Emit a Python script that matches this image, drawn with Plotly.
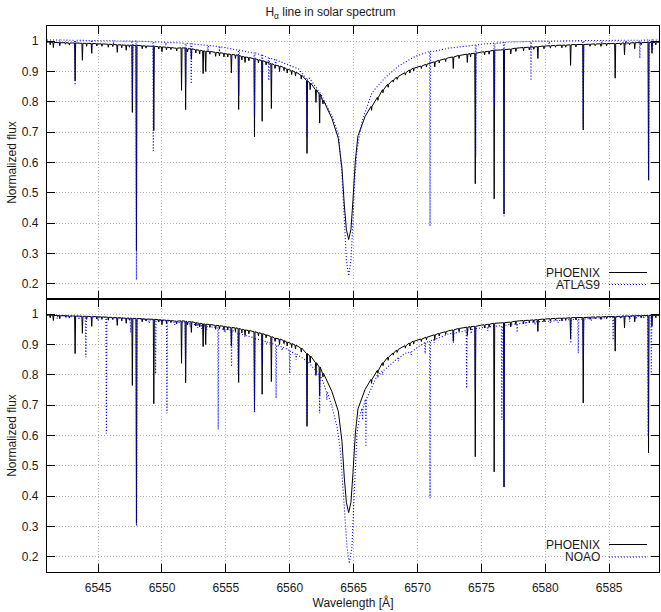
import numpy as np
import plotly.graph_objects as go
from plotly.subplots import make_subplots

# ---------------- data ----------------
# PHOENIX synthetic spectrum: pseudo-continuum incl. H-alpha profile
phx_cont_wl = [6541.0, 6543.0, 6545.0, 6547.0, 6549.0, 6551.0, 6553.0, 6555.0, 6556.5, 6558.0,
               6559.4, 6560.7, 6561.5, 6562.2, 6562.8, 6563.3, 6563.8, 6564.09, 6564.27, 6564.43,
               6564.61, 6564.79, 6564.95, 6565.13, 6565.34, 6565.9, 6566.7, 6567.5, 6568.5, 6569.8,
               6571.1, 6572.4, 6573.7, 6575.0, 6576.5, 6578.0, 6580.0, 6582.0, 6584.0, 6586.0, 6589.0]
phx_cont_fl = [0.997, 0.994, 0.991, 0.987, 0.983, 0.977, 0.969, 0.958, 0.948, 0.933,
               0.915, 0.892, 0.865, 0.832, 0.790, 0.745, 0.680, 0.580, 0.460, 0.380,
               0.346, 0.380, 0.478, 0.605, 0.688, 0.752, 0.805, 0.850, 0.884, 0.912,
               0.930, 0.945, 0.956, 0.964, 0.971, 0.978, 0.984, 0.988, 0.991, 0.994, 0.997]
# PHOENIX absorption lines: centre, core flux, flux at line edges
phx_line_wl = [6541.25, 6541.50, 6542.00, 6542.45, 6542.75, 6543.20, 6543.77, 6544.10, 6544.50, 6544.90,
               6545.30, 6545.80, 6546.15, 6546.50, 6546.85, 6547.20, 6547.45, 6547.68, 6548.00, 6548.45,
               6548.75, 6549.36, 6549.75, 6550.00, 6550.35, 6550.70, 6551.15, 6551.53, 6551.85, 6552.00,
               6552.30, 6552.65, 6552.95, 6553.22, 6553.42, 6553.75, 6554.20, 6554.50, 6554.85, 6555.15,
               6555.43, 6555.75, 6556.00, 6556.25, 6556.50, 6556.80, 6557.24, 6557.55, 6557.84, 6558.15,
               6558.56, 6558.85, 6559.20, 6559.55, 6559.80, 6560.15, 6560.45, 6560.90, 6561.35, 6561.60,
               6562.05, 6562.34, 6562.60, 6566.40, 6566.90, 6567.30, 6567.70, 6568.10, 6568.40, 6569.05,
               6569.40, 6569.70, 6570.30, 6570.70, 6571.35, 6571.70, 6572.20, 6572.80, 6573.25, 6573.90,
               6574.15, 6574.52, 6575.25, 6575.60, 6576.00, 6576.77, 6577.30, 6577.70, 6578.30, 6578.75,
               6579.10, 6579.42, 6579.90, 6580.40, 6580.80, 6581.30, 6581.60, 6581.98, 6582.40, 6582.97,
               6583.50, 6583.90, 6584.35, 6584.80, 6585.47, 6585.90, 6586.20, 6586.60, 6587.00, 6587.50,
               6588.08, 6588.35, 6588.65]
phx_line_core = [0.988, 0.979, 0.985, 0.990, 0.987, 0.870, 0.937, 0.983, 0.960, 0.984,
                 0.983, 0.980, 0.982, 0.963, 0.978, 0.970, 0.980, 0.765, 0.310, 0.975,
                 0.977, 0.705, 0.974, 0.965, 0.971, 0.972, 0.968, 0.838, 0.774, 0.965,
                 0.940, 0.961, 0.958, 0.893, 0.900, 0.957, 0.950, 0.951, 0.948, 0.948,
                 0.895, 0.943, 0.775, 0.938, 0.930, 0.935, 0.685, 0.928, 0.736, 0.922,
                 0.778, 0.910, 0.900, 0.903, 0.895, 0.890, 0.885, 0.875, 0.630, 0.840,
                 0.798, 0.730, 0.793, 0.772, 0.805, 0.830, 0.848, 0.865, 0.874, 0.888,
                 0.895, 0.902, 0.910, 0.915, 0.915, 0.928, 0.933, 0.910, 0.943, 0.930,
                 0.948, 0.530, 0.955, 0.957, 0.480, 0.430, 0.958, 0.966, 0.968, 0.971,
                 0.973, 0.943, 0.975, 0.977, 0.980, 0.978, 0.980, 0.920, 0.981, 0.707,
                 0.983, 0.985, 0.983, 0.985, 0.878, 0.987, 0.955, 0.988, 0.975, 0.988,
                 0.543, 0.960, 0.988]
phx_line_edge = [0.997, 0.996, 0.995, 0.995, 0.994, 0.994, 0.993, 0.993, 0.992, 0.992,
                 0.991, 0.990, 0.989, 0.988, 0.988, 0.987, 0.987, 0.986, 0.986, 0.985,
                 0.984, 0.983, 0.982, 0.981, 0.980, 0.979, 0.977, 0.978, 0.977, 0.975,
                 0.975, 0.972, 0.970, 0.968, 0.967, 0.966, 0.963, 0.962, 0.960, 0.958,
                 0.956, 0.955, 0.953, 0.950, 0.948, 0.946, 0.942, 0.939, 0.936, 0.932,
                 0.926, 0.921, 0.918, 0.913, 0.908, 0.903, 0.898, 0.888, 0.870, 0.862,
                 0.840, 0.826, 0.805, 0.785, 0.815, 0.840, 0.858, 0.872, 0.882, 0.896,
                 0.905, 0.911, 0.918, 0.924, 0.932, 0.937, 0.942, 0.948, 0.953, 0.957,
                 0.959, 0.960, 0.965, 0.967, 0.970, 0.972, 0.974, 0.977, 0.979, 0.980,
                 0.981, 0.982, 0.984, 0.985, 0.986, 0.987, 0.987, 0.988, 0.989, 0.989,
                 0.990, 0.991, 0.991, 0.992, 0.992, 0.993, 0.994, 0.994, 0.995, 0.995,
                 0.996, 0.996, 0.996]

# ATLAS9 synthetic spectrum (upper panel)
atl_cont_wl = [6541.0, 6543.0, 6545.0, 6547.0, 6549.0, 6551.0, 6553.0, 6554.5, 6555.5, 6557.0,
               6558.1, 6559.4, 6560.7, 6561.5, 6562.2, 6562.8, 6563.3, 6563.83, 6564.09, 6564.27,
               6564.43, 6564.61, 6564.79, 6564.95, 6565.08, 6565.26, 6565.65, 6566.43, 6567.47, 6568.52,
               6569.82, 6571.12, 6572.42, 6573.73, 6575.02, 6577.0, 6579.0, 6582.0, 6585.0, 6589.0]
atl_cont_fl = [1.004, 1.003, 1.002, 1.000, 0.998, 0.994, 0.988, 0.982, 0.975, 0.962,
               0.948, 0.930, 0.908, 0.880, 0.840, 0.795, 0.754, 0.690, 0.555, 0.412,
               0.279, 0.226, 0.279, 0.412, 0.540, 0.640, 0.735, 0.830, 0.880, 0.918,
               0.950, 0.965, 0.977, 0.984, 0.990, 0.997, 1.000, 1.002, 1.003, 1.004]
atl_line_wl = [6542.00, 6543.20, 6544.50, 6546.20, 6547.68, 6548.00, 6549.32, 6550.30, 6551.85, 6552.29,
               6553.60, 6554.50, 6556.02, 6557.24, 6557.84, 6558.36, 6558.90, 6561.35, 6562.34, 6570.98,
               6574.56, 6576.02, 6576.77, 6578.88, 6580.30, 6582.97, 6584.40, 6586.30, 6587.40, 6588.10,
               6588.40]
atl_line_core = [0.990, 0.855, 0.985, 0.988, 0.800, 0.213, 0.638, 0.985, 0.850, 0.859,
                 0.965, 0.965, 0.820, 0.760, 0.850, 0.870, 0.915, 0.683, 0.790, 0.390,
                 0.620, 0.780, 0.423, 0.870, 0.990, 0.720, 0.985, 0.988, 0.944, 0.540,
                 0.970]
atl_line_edge = [1.004, 1.003, 1.002, 1.001, 1.000, 1.000, 0.998, 0.996, 0.993, 0.991,
                 0.986, 0.982, 0.970, 0.962, 0.953, 0.945, 0.938, 0.875, 0.830, 0.966,
                 0.987, 0.993, 0.995, 0.999, 1.000, 1.002, 1.002, 1.003, 1.003, 1.004,
                 1.004]

# NOAO observed solar atlas (lower panel)
noao_cont_wl = [6541.0, 6543.0, 6545.0, 6547.0, 6549.0, 6551.0, 6553.0, 6555.0, 6556.02, 6557.3,
                6558.62, 6559.92, 6561.22, 6562.00, 6562.78, 6563.30, 6563.70, 6563.96, 6564.14, 6564.30,
                6564.48, 6564.66, 6564.87, 6565.00, 6565.13, 6565.26, 6565.52, 6566.43, 6567.21, 6567.99,
                6569.03, 6570.08, 6571.64, 6572.42, 6574.0, 6575.0, 6577.0, 6580.0, 6583.0, 6586.0, 6589.0]
noao_cont_fl = [0.998, 0.994, 0.990, 0.986, 0.981, 0.973, 0.963, 0.950, 0.937, 0.920,
                0.904, 0.882, 0.849, 0.816, 0.756, 0.695, 0.629, 0.552, 0.442, 0.332,
                0.233, 0.178, 0.233, 0.365, 0.519, 0.607, 0.673, 0.761, 0.811, 0.838,
                0.871, 0.893, 0.921, 0.935, 0.948, 0.955, 0.965, 0.976, 0.985, 0.992, 0.996]
noao_line_wl = [6541.80, 6542.50, 6543.50, 6544.04, 6545.00, 6545.65, 6546.50, 6547.55, 6548.02, 6549.00,
                6549.50, 6550.39, 6551.00, 6551.85, 6552.20, 6552.80, 6553.10, 6553.50, 6553.80, 6554.40,
                6554.90, 6555.44, 6555.96, 6556.50, 6557.24, 6557.84, 6558.20, 6558.93, 6559.40, 6560.00,
                6560.50, 6561.35, 6562.34, 6562.90, 6565.70, 6565.96, 6566.90, 6567.25, 6568.50, 6569.50,
                6570.60, 6570.98, 6571.30, 6572.81, 6573.85, 6574.20, 6574.52, 6575.50, 6576.60, 6576.77,
                6577.80, 6578.50, 6579.20, 6580.40, 6581.00, 6582.00, 6582.58, 6582.97, 6583.60, 6584.40,
                6585.31, 6586.60, 6587.10, 6587.70, 6588.05, 6588.30]
noao_line_core = [0.985, 0.988, 0.982, 0.858, 0.978, 0.607, 0.975, 0.940, 0.301, 0.970,
                  0.803, 0.673, 0.965, 0.790, 0.960, 0.955, 0.952, 0.948, 0.955, 0.620,
                  0.940, 0.827, 0.800, 0.925, 0.675, 0.840, 0.900, 0.723, 0.880, 0.805,
                  0.850, 0.640, 0.673, 0.717, 0.651, 0.563, 0.790, 0.800, 0.845, 0.865,
                  0.870, 0.393, 0.905, 0.905, 0.756, 0.935, 0.750, 0.945, 0.651, 0.431,
                  0.940, 0.962, 0.965, 0.970, 0.972, 0.904, 0.871, 0.850, 0.978, 0.980,
                  0.915, 0.975, 0.983, 0.985, 0.600, 0.800]
noao_line_edge = [0.996, 0.995, 0.993, 0.992, 0.990, 0.989, 0.988, 0.985, 0.985, 0.981,
                  0.981, 0.978, 0.973, 0.972, 0.968, 0.965, 0.963, 0.960, 0.958, 0.955,
                  0.949, 0.947, 0.938, 0.930, 0.922, 0.914, 0.908, 0.898, 0.892, 0.878,
                  0.868, 0.845, 0.800, 0.745, 0.690, 0.720, 0.800, 0.812, 0.855, 0.876,
                  0.905, 0.912, 0.917, 0.937, 0.946, 0.949, 0.952, 0.958, 0.962, 0.963,
                  0.968, 0.972, 0.975, 0.977, 0.979, 0.982, 0.983, 0.984, 0.986, 0.988,
                  0.990, 0.992, 0.993, 0.994, 0.995, 0.995]

x_ticks = [6545, 6550, 6555, 6560, 6565, 6570, 6575, 6580, 6585]
y_ticks = [0.2, 0.3, 0.4, 0.5, 0.6, 0.7, 0.8, 0.9, 1.0]
y_tick_text = ["0.2", "0.3", "0.4", "0.5", "0.6", "0.7", "0.8", "0.9", "1"]
x_range = [6541.0, 6588.9]
y_range = [0.15, 1.05]


def spectrum(cont_wl, cont_fl, line_wl, line_core, line_edge, hw=0.04):
    """Merge the read continuum points with the read line points (edge, core, edge)."""
    lw = np.asarray(line_wl)
    wl, fl = [], []
    for w, f in zip(cont_wl, cont_fl):
        if np.all(np.abs(lw - w) > 1.5 * hw):
            wl.append(w)
            fl.append(f)
    for w, c, e in zip(line_wl, line_core, line_edge):
        wl += [w - hw, w, w + hw]
        fl += [e, c, e]
    order = np.argsort(wl, kind="stable")
    return np.asarray(wl)[order], np.asarray(fl)[order]


phx_x, phx_y = spectrum(phx_cont_wl, phx_cont_fl, phx_line_wl, phx_line_core, phx_line_edge)
atl_x, atl_y = spectrum(atl_cont_wl, atl_cont_fl, atl_line_wl, atl_line_core, atl_line_edge)
noao_x, noao_y = spectrum(noao_cont_wl, noao_cont_fl, noao_line_wl, noao_line_core, noao_line_edge)

# ---------------- figure ----------------
W, H = 661, 612
ML, MR, MT, MB = 47, 2, 26, 40
PW, PH = W - ML - MR, H - MT - MB

FONT = "Liberation Sans, Arial, Helvetica, sans-serif"
TXT = "#1a1a1a"
BLUE = "#0000ff"
BLACK = "#000000"
DOT = "1px,2px"

fig = make_subplots(rows=2, cols=1, shared_xaxes=True, vertical_spacing=0)

fig.add_trace(go.Scatter(x=phx_x, y=phx_y, mode="lines", name="PHOENIX",
                         line=dict(color=BLACK, width=1.0)), row=1, col=1)
fig.add_trace(go.Scatter(x=atl_x, y=atl_y, mode="lines", name="ATLAS9",
                         line=dict(color=BLUE, width=1.1, dash=DOT)), row=1, col=1)
fig.add_trace(go.Scatter(x=phx_x, y=phx_y, mode="lines", name="PHOENIX",
                         line=dict(color=BLACK, width=1.0)), row=2, col=1)
fig.add_trace(go.Scatter(x=noao_x, y=noao_y, mode="lines", name="NOAO",
                         line=dict(color=BLUE, width=1.1, dash=DOT)), row=2, col=1)

axis_common = dict(showline=True, linecolor="black", linewidth=1.3, mirror="ticks",
                   ticks="inside", ticklen=8, tickwidth=1.3, tickcolor="black",
                   showgrid=True, gridcolor="#b4b4b4", gridwidth=1, griddash=DOT,
                   zeroline=False, automargin=False,
                   tickfont=dict(family=FONT, size=12, color=TXT))

for r in (1, 2):
    fig.update_xaxes(range=x_range, tickvals=x_ticks, row=r, col=1, **axis_common)
    fig.update_yaxes(range=y_range, tickvals=y_ticks, ticktext=y_tick_text, row=r, col=1,
                     ticklabelstandoff=5,
                     title=dict(text="Normalized flux", font=dict(family=FONT, size=12, color=TXT),
                                standoff=2),
                     **axis_common)
fig.update_xaxes(showticklabels=False, row=1, col=1)
fig.update_xaxes(ticklabelstandoff=4,
                 title=dict(text="Wavelength [Å]", font=dict(family=FONT, size=12, color=TXT),
                            standoff=4), row=2, col=1)


def px(xp):
    return (xp - ML) / PW


def py(yp):
    return 1 - (yp - MT) / PH


shapes, annotations = [], []
legend_rows = [("PHOENIX", BLACK, "solid", 272.5), ("ATLAS9", BLUE, DOT, 284.5),
               ("PHOENIX", BLACK, "solid", 544.5), ("NOAO", BLUE, DOT, 557.0)]
for label, col, dash, yp in legend_rows:
    shapes.append(dict(type="line", xref="paper", yref="paper", x0=px(609), x1=px(647),
                       y0=py(yp), y1=py(yp), line=dict(color=col, width=1.1, dash=dash)))
    annotations.append(dict(text=label, xref="paper", yref="paper", x=px(602), y=py(yp),
                            xanchor="right", yanchor="middle", showarrow=False,
                            font=dict(family=FONT, size=12, color=TXT)))

fig.update_layout(
    width=W, height=H, margin=dict(l=ML, r=MR, t=MT, b=MB, autoexpand=False),
    paper_bgcolor="white", plot_bgcolor="white", showlegend=False,
    title=dict(text="H<sub>α</sub> line in solar spectrum", x=px(353), xanchor="center",
               y=1 - 12 / H, yanchor="middle", yref="container",
               font=dict(family=FONT, size=12, color=TXT)),
    shapes=shapes, annotations=annotations,
)

fig.write_html("out.html", config={"displayModeBar": False},
               post_script="document.body.style.margin='0';document.body.style.padding='0';")
